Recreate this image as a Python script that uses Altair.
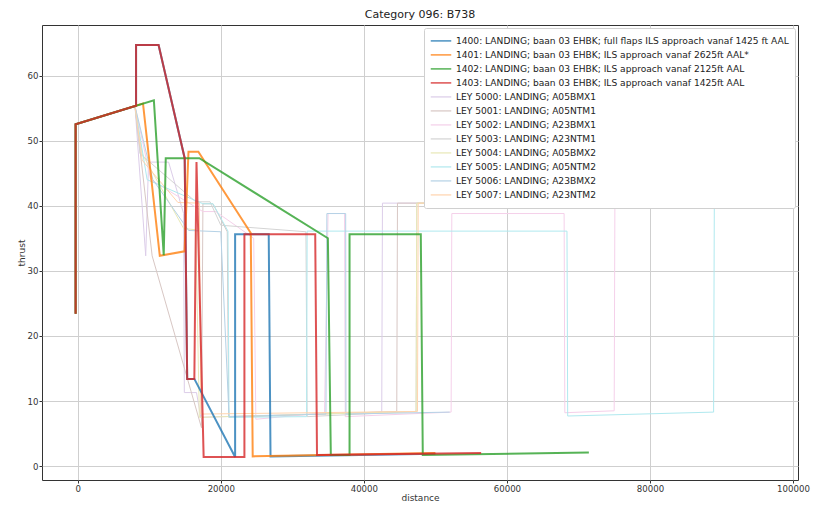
import altair as alt
import pandas as pd

# ---- data (distance, thrust) ----
names = [
    "1400: LANDING; baan 03 EHBK; full flaps ILS approach vanaf 1425 ft AAL",
    "1401: LANDING; baan 03 EHBK; ILS approach vanaf 2625ft AAL*",
    "1402: LANDING; baan 03 EHBK; ILS approach vanaf 2125ft AAL",
    "1403: LANDING; baan 03 EHBK; ILS approach vanaf 1425ft AAL",
    "LEY 5000: LANDING; A05BMX1",
    "LEY 5001: LANDING; A05NTM1",
    "LEY 5002: LANDING; A23BMX1",
    "LEY 5003: LANDING; A23NTM1",
    "LEY 5004: LANDING; A05BMX2",
    "LEY 5005: LANDING; A05NTM2",
    "LEY 5006: LANDING; A23BMX2",
    "LEY 5007: LANDING; A23NTM2",
]
# tab10 colours; the LEY series are drawn faint (pre-blended with white)
colors = ["#1f77b4", "#ff7f0e", "#2ca02c", "#d62728",
          "#dccde9", "#d8c7c4", "#f5d0ea", "#d4d4d4",
          "#e9e9b6", "#b0e9ef", "#b5d2e6", "#ffd4ae"]

x1400 = [-300, -300, 8150, 8150, 11300, 14950, 15300, 16300, 22000, 22000, 26700, 26950, 50000]
y1400 = [23.4, 52.5, 55.35, 64.7, 64.7, 47.3, 13.4, 13.4, 1.4, 35.6, 35.6, 1.5, 1.9]
x1401 = [-300, -300, 9120, 11470, 14930, 15480, 16860, 24190, 24460, 50000]
y1401 = [23.4, 52.5, 55.7, 32.3, 33.0, 48.3, 48.3, 35.8, 1.5, 2.0]
x1402 = [-300, -300, 10640, 12020, 12300, 17000, 34970, 35380, 38000, 38000, 47960, 48240, 71460]
y1402 = [23.4, 52.5, 56.2, 32.4, 47.3, 47.3, 35.0, 1.7, 1.7, 35.6, 35.6, 1.7, 2.1]
x1403 = [-300, -300, 8150, 8150, 11300, 14950, 15300, 16300, 16600, 17600, 23300, 23300, 33200, 33450, 56400]
y1403 = [23.4, 52.5, 55.35, 64.7, 64.7, 47.3, 13.4, 13.4, 46.7, 1.4, 1.4, 35.6, 35.6, 1.7, 2.0]

x5000 = [-300, 8000, 9500, 9900, 12700, 14800, 14900, 16600, 17200, 42500, 42600, 69000]
y5000 = [52.5, 55.3, 32.3, 46.7, 46.7, 38.8, 11.3, 11.3, 7.5, 8.3, 40.4, 40.4]
x5001 = [-300, 8000, 10400, 17300, 17500, 18900, 20900, 21100, 44600, 44700, 73000]
y5001 = [52.5, 55.3, 32.3, 5.9, 40.3, 40.3, 36.0, 7.5, 8.4, 40.4, 40.4]
x5002 = [-300, 8000, 10200, 17500, 19300, 24600, 24900, 34500, 35000, 37300, 37400, 52200, 52300, 68000, 68100, 75000, 75100, 93600]
y5002 = [52.5, 55.3, 44.0, 39.1, 39.1, 35.0, 7.2, 8.2, 38.8, 38.8, 7.6, 8.3, 38.8, 38.8, 8.2, 8.5, 40.4, 40.4]
x5003 = [-300, 8000, 8700, 16500, 18500, 20000, 31900, 32070, 47300, 47400, 71000]
y5003 = [52.5, 55.3, 48.0, 40.6, 40.6, 37.0, 36.0, 7.6, 8.4, 40.4, 40.4]
x5004 = [-300, 8000, 9000, 14800, 16500, 17000, 47300, 47400, 72000]
y5004 = [52.5, 55.3, 48.0, 36.5, 36.3, 7.5, 8.4, 40.4, 40.4]
x5005 = [-300, 8000, 9700, 17500, 18900, 21000, 21150, 32000, 32070, 68400, 68500, 88900, 89000, 96000]
y5005 = [52.5, 55.3, 44.0, 40.3, 40.3, 36.1, 7.5, 7.6, 36.1, 36.1, 7.7, 8.3, 40.4, 40.4]
x5006 = [-300, 8000, 10500, 15500, 20000, 21150, 34700, 34830, 37460, 37500, 52000]
y5006 = [52.5, 55.3, 44.0, 36.2, 36.0, 7.6, 8.0, 38.8, 38.8, 8.0, 8.3]
x5007 = [-300, 8000, 9000, 14000, 17000, 17200, 47500, 47600, 73000]
y5007 = [52.5, 55.3, 47.0, 40.5, 40.4, 8.0, 8.4, 40.4, 40.4]

xs = [x1400, x1401, x1402, x1403, x5000, x5001, x5002, x5003, x5004, x5005, x5006, x5007]
ys = [y1400, y1401, y1402, y1403, y5000, y5001, y5002, y5003, y5004, y5005, y5006, y5007]

rows = []
for k, (n, xx, yy) in enumerate(zip(names, xs, ys)):
    for i, (a, b) in enumerate(zip(xx, yy)):
        rows.append({"series": n, "k": k, "i": i, "distance": a, "thrust": b})
df = pd.DataFrame(rows)

FONT = "DejaVu Sans"

xenc = alt.X("distance:Q", title="distance",
             scale=alt.Scale(domain=[-5000, 100700], nice=False, zero=False),
             axis=alt.Axis(values=[0, 20000, 40000, 60000, 80000, 100000], format="d"))
yenc = alt.Y("thrust:Q", title="thrust",
             scale=alt.Scale(domain=[-2.13, 67.76], nice=False, zero=False),
             axis=alt.Axis(values=[0, 10, 20, 30, 40, 50, 60]))
cenc = alt.Color("series:N", title=None,
                 scale=alt.Scale(domain=names, range=colors),
                 legend=alt.Legend(orient="top-right", symbolType="stroke",
                                   labelFontSize=9.1, labelFont=FONT, labelLimit=500,
                                   labelColor="#222",
                                   symbolSize=420, symbolStrokeWidth=1.5,
                                   clipHeight=13.8, rowPadding=0,
                                   fillColor="white", strokeColor="#d0d0d0",
                                   padding=6, offset=3, cornerRadius=2))

base = alt.Chart(df).encode(x=xenc, y=yenc, color=cenc,
                            order=alt.Order("i:Q"), detail="k:N")

faint = base.transform_filter("datum.k >= 4").mark_line(strokeWidth=1)
main = base.transform_filter("datum.k < 4").mark_line(strokeWidth=2, opacity=0.8)

chart = alt.layer(faint, main).properties(
    width=756, height=455,
    title=alt.TitleParams("Category 096: B738", font=FONT, fontSize=11, fontWeight="normal",
                          color="#222", offset=5),
    autosize=alt.AutoSizeParams(type="none"),
    padding={"left": 34, "top": 17, "right": 13, "bottom": 23},
).configure_view(
    stroke="#333", strokeWidth=1
).configure_axis(
    grid=True, gridColor="#cfcfcf", gridWidth=1, domain=False,
    labelFont=FONT, labelFontSize=8.6, labelColor="#333", labelPadding=1,
    titleFont=FONT, titleFontSize=9, titleFontWeight="normal", titleColor="#333",
    titlePadding=1, tickColor="#333", tickSize=3,
)

chart.save("out.html", embed_options={"renderer": "svg", "actions": False})
